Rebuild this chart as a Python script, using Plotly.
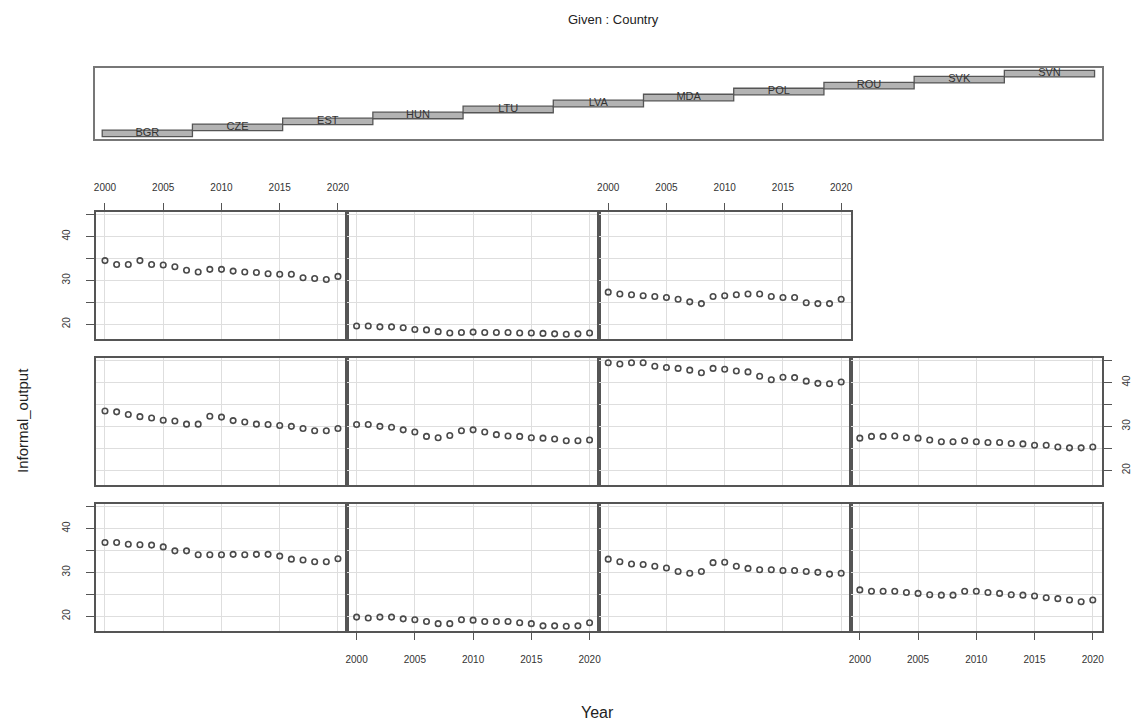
import plotly.graph_objects as go

# ---------------- data ----------------
years = list(range(2000, 2021))
countries = ["BGR", "CZE", "EST", "HUN", "LTU", "LVA", "MDA", "POL", "ROU", "SVK", "SVN"]

BGR = [36.8, 36.8, 36.4, 36.3, 36.2, 35.8, 34.9, 34.9, 34.0, 34.0, 34.0, 34.1, 34.0, 34.1, 34.1, 33.7, 33.0, 32.8, 32.4, 32.4, 33.1]
CZE = [19.8, 19.6, 19.8, 19.8, 19.4, 19.2, 18.8, 18.3, 18.3, 19.2, 19.1, 18.8, 18.8, 18.8, 18.5, 18.3, 17.8, 17.8, 17.7, 17.8, 18.5]
EST = [33.0, 32.4, 31.9, 31.8, 31.4, 31.0, 30.2, 29.8, 30.2, 32.2, 32.3, 31.4, 30.9, 30.6, 30.6, 30.4, 30.4, 30.2, 30.0, 29.6, 29.8]
HUN = [26.0, 25.7, 25.7, 25.7, 25.4, 25.2, 24.9, 24.8, 24.8, 25.7, 25.7, 25.4, 25.2, 24.9, 24.8, 24.6, 24.2, 24.0, 23.7, 23.3, 23.7]
LTU = [33.5, 33.3, 32.7, 32.2, 31.9, 31.4, 31.2, 30.5, 30.5, 32.3, 32.1, 31.3, 31.0, 30.5, 30.4, 30.2, 30.0, 29.5, 29.0, 29.0, 29.5]
LVA = [30.4, 30.4, 30.0, 29.8, 29.2, 28.7, 27.7, 27.4, 27.9, 29.0, 29.2, 28.7, 28.1, 27.8, 27.7, 27.4, 27.3, 27.1, 26.7, 26.7, 26.9]
MDA = [44.5, 44.2, 44.5, 44.5, 43.7, 43.4, 43.2, 42.8, 42.2, 43.2, 43.0, 42.6, 42.4, 41.4, 40.6, 41.2, 41.1, 40.3, 39.8, 39.7, 40.1]
POL = [27.3, 27.7, 27.7, 27.8, 27.4, 27.3, 26.9, 26.5, 26.5, 26.7, 26.5, 26.3, 26.3, 26.1, 26.0, 25.7, 25.7, 25.3, 25.1, 25.1, 25.3]
ROU = [34.5, 33.6, 33.6, 34.5, 33.6, 33.5, 33.1, 32.3, 31.9, 32.5, 32.5, 32.1, 31.9, 31.8, 31.5, 31.4, 31.4, 30.6, 30.4, 30.2, 30.9]
SVK = [19.6, 19.6, 19.4, 19.4, 19.2, 18.8, 18.7, 18.3, 18.0, 18.1, 18.2, 18.1, 18.1, 18.1, 18.0, 18.0, 17.9, 17.8, 17.7, 17.8, 18.0]
SVN = [27.3, 26.9, 26.7, 26.5, 26.3, 26.1, 25.7, 25.1, 24.7, 26.3, 26.5, 26.7, 26.9, 26.9, 26.3, 26.1, 26.1, 24.9, 24.7, 24.7, 25.7]

series = [BGR, CZE, EST, HUN, LTU, LVA, MDA, POL, ROU, SVK, SVN]

x_tick_vals = [2000, 2005, 2010, 2015, 2020]
x_tick_text = ["2000", "2005", "2010", "2015", "2020"]
y_tick_vals = [20, 25, 30, 35, 40, 45]
y_tick_text = ["20", "", "30", "", "40", ""]

title_text = "Given : Country"
x_title = "Year"
y_title = "Informal_output"

# ---------------- layout geometry (pixels) ----------------
W, H = 1136, 727
col_edges = [94, 346.5, 599, 851.5, 1104]
row_spans = [(504, 631), (358, 485), (212, 339)]   # bottom, middle, top
given_box = (93, 1104, 68, 139)

FONT = "Liberation Sans, Arial, Helvetica, sans-serif"
LINE = "#555555"
GRID = "#dedede"
PT = "#4a4a4a"


def fx(p):
    return p / W


def fy(p):
    return 1 - p / H


# ranges like R (4% extension)
all_vals = [v for s in series for v in s]
vmin, vmax = min(all_vals), max(all_vals)
ext = 0.04 * (vmax - vmin)
y_range = [vmin - ext, vmax + ext]
xr = max(years) - min(years)
x_range = [min(years) - 0.04 * xr, max(years) + 0.04 * xr]

fig = go.Figure()
layout = {}

# ---------------- given panel ----------------
n_lv = len(countries)
idx = list(range(1, n_lv + 1))
a_lo, a_hi = 0.5, n_lv + 0.5
a_span = a_hi - a_lo
gx0 = a_lo + 0.03 * a_span
gx1 = a_hi - 0.03 * a_span
gx_range = [gx0 - 0.04 * (gx1 - gx0), gx1 + 0.04 * (gx1 - gx0)]
gy_range = [0.5 - 0.04 * n_lv, n_lv + 0.5 + 0.04 * n_lv]

fig.add_trace(go.Bar(
    x=idx, y=[1.1] * n_lv, base=[i - 0.55 for i in idx], width=1.0,
    marker=dict(color="#b3b3b3", line=dict(color="#555555", width=1.3)),
    xaxis="x", yaxis="y", showlegend=False, hoverinfo="skip"))
fig.add_trace(go.Scatter(
    x=idx, y=idx, mode="text", text=countries,
    textfont=dict(family=FONT, size=11, color="#333333"),
    xaxis="x", yaxis="y", showlegend=False, hoverinfo="skip"))

layout["xaxis"] = dict(domain=[fx(given_box[0]), fx(given_box[1])], anchor="y",
                       range=gx_range, showgrid=False, zeroline=False,
                       showticklabels=False, ticks="", showline=True, mirror=True,
                       linecolor="#777777", linewidth=1.5)
layout["yaxis"] = dict(domain=[fy(given_box[3]), fy(given_box[2])], anchor="x",
                       range=gy_range, showgrid=False, zeroline=False,
                       showticklabels=False, ticks="", showline=True, mirror=True,
                       linecolor="#777777", linewidth=1.5)

# ---------------- panels ----------------
for k, (name, vals) in enumerate(zip(countries, series)):
    n = k + 2
    row = k // 4
    col = k % 4
    x0, x1 = col_edges[col], col_edges[col + 1]
    top, bot = row_spans[row]

    fig.add_trace(go.Scatter(
        x=years, y=vals, mode="markers", name=name,
        marker=dict(symbol="circle-open", size=5.5, color=PT, line=dict(color=PT, width=1.6)),
        xaxis=f"x{n}", yaxis=f"y{n}", showlegend=False))

    show_x_top = (row == 2 and col in (0, 2))
    show_x_bot = (row == 0 and col in (1, 3))
    show_y_left = (row in (0, 2) and col == 0)
    show_y_right = (row == 1 and col == 3)

    xa = dict(domain=[fx(x0), fx(x1)], anchor=f"y{n}", range=x_range,
              tickvals=x_tick_vals, ticktext=x_tick_text,
              showgrid=True, gridcolor=GRID, gridwidth=1, zeroline=False,
              showline=True, mirror=True, linecolor=LINE, linewidth=1.6,
              tickfont=dict(family=FONT, size=10, color="#333333"))
    if show_x_top or show_x_bot:
        xa.update(side="top" if show_x_top else "bottom", ticks="outside",
                  ticklen=7, tickwidth=1.2, tickcolor=LINE, showticklabels=True,
                  ticklabelstandoff=8 if show_x_top else 11)
    else:
        xa.update(ticks="", showticklabels=False)

    ya = dict(domain=[fy(bot), fy(top)], anchor=f"x{n}", range=y_range,
              tickvals=y_tick_vals, ticktext=y_tick_text,
              showgrid=True, gridcolor=GRID, gridwidth=1, zeroline=False,
              showline=True, mirror=True, linecolor=LINE, linewidth=1.6,
              tickfont=dict(family=FONT, size=10, color="#333333"))
    if show_y_left or show_y_right:
        ya.update(side="left" if show_y_left else "right", ticks="outside",
                  ticklen=8, tickwidth=1.2, tickcolor=LINE, showticklabels=True,
                  tickangle=-90, ticklabelstandoff=12 if show_y_left else 6)
    else:
        ya.update(ticks="", showticklabels=False)

    layout[f"xaxis{n}"] = xa
    layout[f"yaxis{n}"] = ya

annotations = [
    dict(text=title_text, x=fx(614), y=fy(20), xref="paper", yref="paper",
         xanchor="center", yanchor="middle",
         showarrow=False, font=dict(family=FONT, size=13, color="#222222")),
    dict(text=x_title, x=fx(598), y=fy(712), xref="paper", yref="paper",
         xanchor="center", yanchor="middle",
         showarrow=False, font=dict(family=FONT, size=16, color="#222222")),
    dict(text=y_title, x=fx(20), y=fy(420), xref="paper", yref="paper",
         xanchor="center", yanchor="middle",
         showarrow=False, textangle=-90, font=dict(family=FONT, size=15, color="#222222")),
]

fig.update_layout(
    width=W, height=H,
    margin=dict(l=0, r=0, t=0, b=0),
    paper_bgcolor="white", plot_bgcolor="white",
    barmode="overlay",
    annotations=annotations,
    **layout,
)

fig.write_html("out.html", config={"displayModeBar": False},
               post_script="document.body.style.margin='0px';document.body.style.overflow='hidden';")
